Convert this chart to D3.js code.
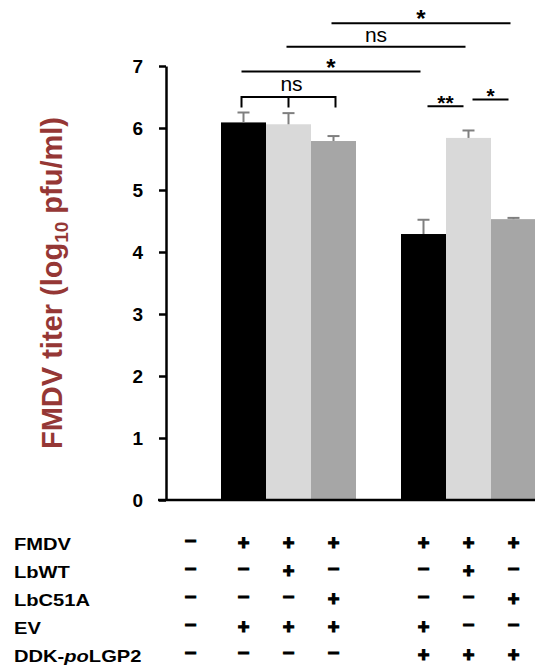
<!DOCTYPE html>
<html>
<head>
<meta charset="utf-8">
<script src="https://cdn.jsdelivr.net/npm/d3@7"></script>
<style>
  body { margin: 0; background: #fff; }
  svg { display: block; }
  text { font-family: "Liberation Sans", Arial, sans-serif; }
</style>
</head>
<body>
<svg id="chart" width="535" height="672"></svg>
<script>
// ---- data ----
const slots = d3.range(8)                       // 8 positions on the x axis, 0 and 4 have no bar
const barSlots = [1, 2, 3, 5, 6, 7]
const titerMean = [6.09, 6.06, 5.79, 4.29, 5.84, 4.53]
const titerErr = [0.16, 0.18, 0.08, 0.23, 0.12, 0.02]
const barPlasmid = ["EV", "LbWT", "LbC51A", "EV", "LbWT", "LbC51A"]
const yTicks = [0, 1, 2, 3, 4, 5, 6, 7]

const rowLabels = ["FMDV", "LbWT", "LbC51A", "EV", "DDK-poLGP2"]
const signSlots = [0, 1, 2, 3, 5, 6, 7]
const signs = [
    ["-", "+", "+", "+", "+", "+", "+"],
    ["-", "-", "+", "-", "-", "+", "-"],
    ["-", "-", "-", "+", "-", "-", "+"],
    ["-", "+", "+", "+", "+", "-", "-"],
    ["-", "-", "-", "-", "+", "+", "+"]
]

// significance lines (slot from, slot to, label, height in titer units)
const sigFrom = [3, 2, 1, 5, 6]
const sigTo = [7, 6, 5, 6, 7]
const sigText = ["*", "ns", "*", "**", "*"]
const sigLevel = [7.69, 7.31, 6.91, 6.35, 6.46]
const bracketSlots = [1, 2, 3]
const bracketText = "ns"
const bracketLevel = 6.50
const bracketFoot = 6.33

const plasmidColor = { EV: "#000000", LbWT: "#d9d9d9", LbC51A: "#a6a6a6" }

// ---- scales ----
const svg = d3.select("#chart")
const axisX = 166
const y = d3.scaleLinear().domain([0, 7]).range([500, 66])
const x = d3.scaleBand().domain(slots).range([176, 536]).padding(0)
const bw = x.bandwidth()
const cx = s => x(s) + bw / 2

// bars
svg.append("g").selectAll("rect").data(titerMean).enter().append("rect")
    .attr("x", (d, i) => x(barSlots[i])).attr("y", d => y(d))
    .attr("width", bw).attr("height", d => y(0) - y(d))
    .attr("fill", (d, i) => plasmidColor[barPlasmid[i]])

// error bars (upper half only)
const err = svg.append("g").attr("stroke", "#7f7f7f").attr("stroke-width", 2)
titerMean.forEach((d, i) => {
    const c = cx(barSlots[i])
    err.append("line").attr("x1", c).attr("x2", c).attr("y1", y(d)).attr("y2", y(d + titerErr[i]))
    err.append("line").attr("x1", c - 6).attr("x2", c + 6).attr("y1", y(d + titerErr[i])).attr("y2", y(d + titerErr[i]))
})

// y axis
const yAxis = svg.append("g").attr("transform", `translate(${axisX},0)`)
    .call(d3.axisLeft(y).tickValues(yTicks).tickSize(7).tickSizeOuter(0).tickPadding(16).tickFormat(d3.format("d")))
yAxis.select(".domain").attr("stroke", "#000").attr("stroke-width", 2.5)
yAxis.selectAll(".tick line").attr("stroke", "#000").attr("stroke-width", 2.5)
yAxis.selectAll(".tick text").attr("font-size", 19).attr("font-weight", "bold").attr("fill", "#000")
    .attr("font-family", "'Liberation Sans', Arial, sans-serif")

// baseline
svg.append("line").attr("x1", axisX - 8).attr("x2", 535).attr("y1", y(0)).attr("y2", y(0))
    .attr("stroke", "#000").attr("stroke-width", 2.5)

// y title
const title = svg.append("text")
    .attr("transform", `translate(62,${(y(0) + y(7)) / 2}) rotate(-90)`)
    .attr("text-anchor", "middle").attr("font-size", 29).attr("font-weight", "bold").attr("fill", "#953735")
title.append("tspan").text("FMDV titer (log")
title.append("tspan").attr("font-size", 19).attr("dy", 6).text("10")
title.append("tspan").attr("dy", -6).text(" pfu/ml)")

// significance lines
const sig = svg.append("g")
sigText.forEach((t, i) => {
    const adjacent = sigTo[i] - sigFrom[i] === 1
    const x1 = adjacent ? cx(sigFrom[i]) + 4 : cx(sigFrom[i]) - 2
    const x2 = adjacent ? cx(sigTo[i]) - 5 : cx(sigTo[i]) - 3
    const ly = y(sigLevel[i])
    sig.append("line").attr("x1", x1).attr("x2", x2).attr("y1", ly).attr("y2", ly)
        .attr("stroke", "#000").attr("stroke-width", 2)
    const star = t.indexOf("*") >= 0
    sig.append("text").attr("x", (x1 + x2) / 2).attr("y", star ? ly + 4 : ly - 5)
        .attr("text-anchor", "middle").attr("font-size", star ? (adjacent ? 21 : 24) : 21)
        .attr("font-weight", star ? "bold" : "normal").text(t)
})

// bracket over the first group
const bl = y(bracketLevel), bf = y(bracketFoot)
sig.append("path")
    .attr("d", `M${cx(bracketSlots[0]) - 2},${bf}V${bl}H${cx(bracketSlots[2]) + 2}V${bf}M${cx(bracketSlots[1])},${bl}V${bf}`)
    .attr("fill", "none").attr("stroke", "#000").attr("stroke-width", 2)
sig.append("text").attr("x", cx(bracketSlots[1]) + 3).attr("y", bl - 6)
    .attr("text-anchor", "middle").attr("font-size", 21).text(bracketText)

// condition table
const rowY = d3.scalePoint().domain(rowLabels).range([550, 662])
const table = svg.append("g")
rowLabels.forEach((lab, r) => {
    const g = table.append("g").attr("transform", `translate(14,${rowY(lab)}) scale(1.22,1)`)
    const t = g.append("text").attr("font-size", 16.5).attr("font-weight", "bold")
    if (lab.indexOf("po") > 0) {
        t.append("tspan").text("DDK-")
        t.append("tspan").attr("font-style", "italic").text("po")
        t.append("tspan").text("LGP2")
    } else {
        t.text(lab)
    }
    signs[r].forEach((s, c) => {
        const sx = cx(signSlots[c]) - (signSlots[c] === 0 ? 8 : 0)
        const minus = s === "-"
        table.append("text").attr("x", sx).attr("y", rowY(lab) + (minus ? -4.5 : 0))
            .attr("text-anchor", "middle").attr("font-weight", "bold")
            .attr("font-size", minus ? 21 : 20)
            .attr("stroke", "#000").attr("stroke-width", minus ? 0.9 : 1.2)
            .text(minus ? "\u2013" : "+")
    })
})
</script>
</body>
</html>
